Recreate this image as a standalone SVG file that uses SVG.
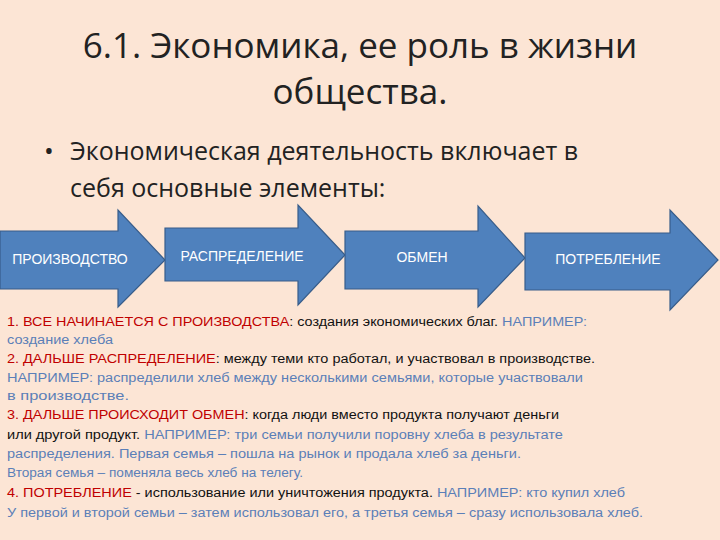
<svg xmlns="http://www.w3.org/2000/svg" width="720" height="540" viewBox="0 0 720 540" xml:space="preserve">
<style>
.t{font-family:"Open Sans","Liberation Sans",sans-serif;fill:#222}
.a{fill:#4F81BD;stroke:#385D8A;stroke-width:1.2}
.al{font-family:"Liberation Sans",sans-serif;font-size:14px;fill:#fff;text-anchor:middle}
.b{font-family:"Liberation Sans",sans-serif;font-size:12.5px;fill:#111}
.r{fill:#C00000}.u{fill:#5B7FB8}
</style>
<rect width="720" height="540" fill="#FCE5D5"/>
<text class="t" x="360" y="58" font-size="35" text-anchor="middle">6.1. Экономика, ее роль в жизни</text>
<text class="t" x="360" y="104" font-size="35" text-anchor="middle">общества.</text>
<text class="t" x="44" y="160" font-size="26">•</text>
<text class="t" x="70" y="160" font-size="25">Экономическая деятельность включает в</text>
<text class="t" x="70" y="197" font-size="25">себя основные элементы:</text>
<g id="n1"><path class="a" d="M0,231H118V210L165,260L118,307V289H0Z"/><text class="al" x="70" y="264">ПРОИЗВОДСТВО</text></g>
<g id="n2"><path class="a" d="M165,228H298V205L345,255L298,305V281H165Z"/><text class="al" x="242" y="261">РАСПРЕДЕЛЕНИЕ</text></g>
<g id="n3"><path class="a" d="M345,231H478V206L525,258L478,307V289H345Z"/><text class="al" x="422" y="262">ОБМЕН</text></g>
<g id="n4"><path class="a" d="M525,233H670V210L718,260L670,310V290H525Z"/><text class="al" x="608" y="264">ПОТРЕБЛЕНИЕ</text></g>
<g id="connectors"></g>
<text class="b" x="7" y="326" textLength="580" lengthAdjust="spacingAndGlyphs"><tspan class="r">1.   ВСЕ НАЧИНАЕТСЯ С ПРОИЗВОДСТВА</tspan>: создания экономических благ.  <tspan class="u">НАПРИМЕР:</tspan></text>
<text class="b u" x="7" y="344" textLength="106" lengthAdjust="spacingAndGlyphs">создание хлеба</text>
<text class="b" x="7" y="363" textLength="588" lengthAdjust="spacingAndGlyphs"><tspan class="r">2.   ДАЛЬШЕ РАСПРЕДЕЛЕНИЕ</tspan>: между теми кто работал, и участвовал в производстве.</text>
<text class="b u" x="7" y="382" textLength="576" lengthAdjust="spacingAndGlyphs">НАПРИМЕР: распределили хлеб между несколькими семьями, которые участвовали</text>
<text class="b u" x="7" y="400" textLength="122" lengthAdjust="spacingAndGlyphs">в производстве.</text>
<text class="b" x="7" y="419" textLength="552" lengthAdjust="spacingAndGlyphs"><tspan class="r">3. ДАЛЬШЕ ПРОИСХОДИТ ОБМЕН</tspan>: когда люди вместо продукта получают деньги</text>
<text class="b" x="7" y="439" textLength="556" lengthAdjust="spacingAndGlyphs">или другой продукт. <tspan class="u">НАПРИМЕР: три семьи получили поровну хлеба в результате</tspan></text>
<text class="b u" x="7" y="458" textLength="514" lengthAdjust="spacingAndGlyphs">распределения. Первая семья – пошла на рынок и продала хлеб за деньги.</text>
<text class="b u" x="7" y="477" textLength="296" lengthAdjust="spacingAndGlyphs">Вторая семья – поменяла весь хлеб на телегу.</text>
<text class="b" x="7" y="497" textLength="618" lengthAdjust="spacingAndGlyphs"><tspan class="r">4. ПОТРЕБЛЕНИЕ </tspan> - использование или уничтожения продукта. <tspan class="u">НАПРИМЕР: кто купил хлеб</tspan></text>
<text class="b u" x="7" y="517" textLength="636" lengthAdjust="spacingAndGlyphs">У первой и второй семьи – затем использовал его, а третья семья – сразу использовала хлеб.</text>
</svg>
